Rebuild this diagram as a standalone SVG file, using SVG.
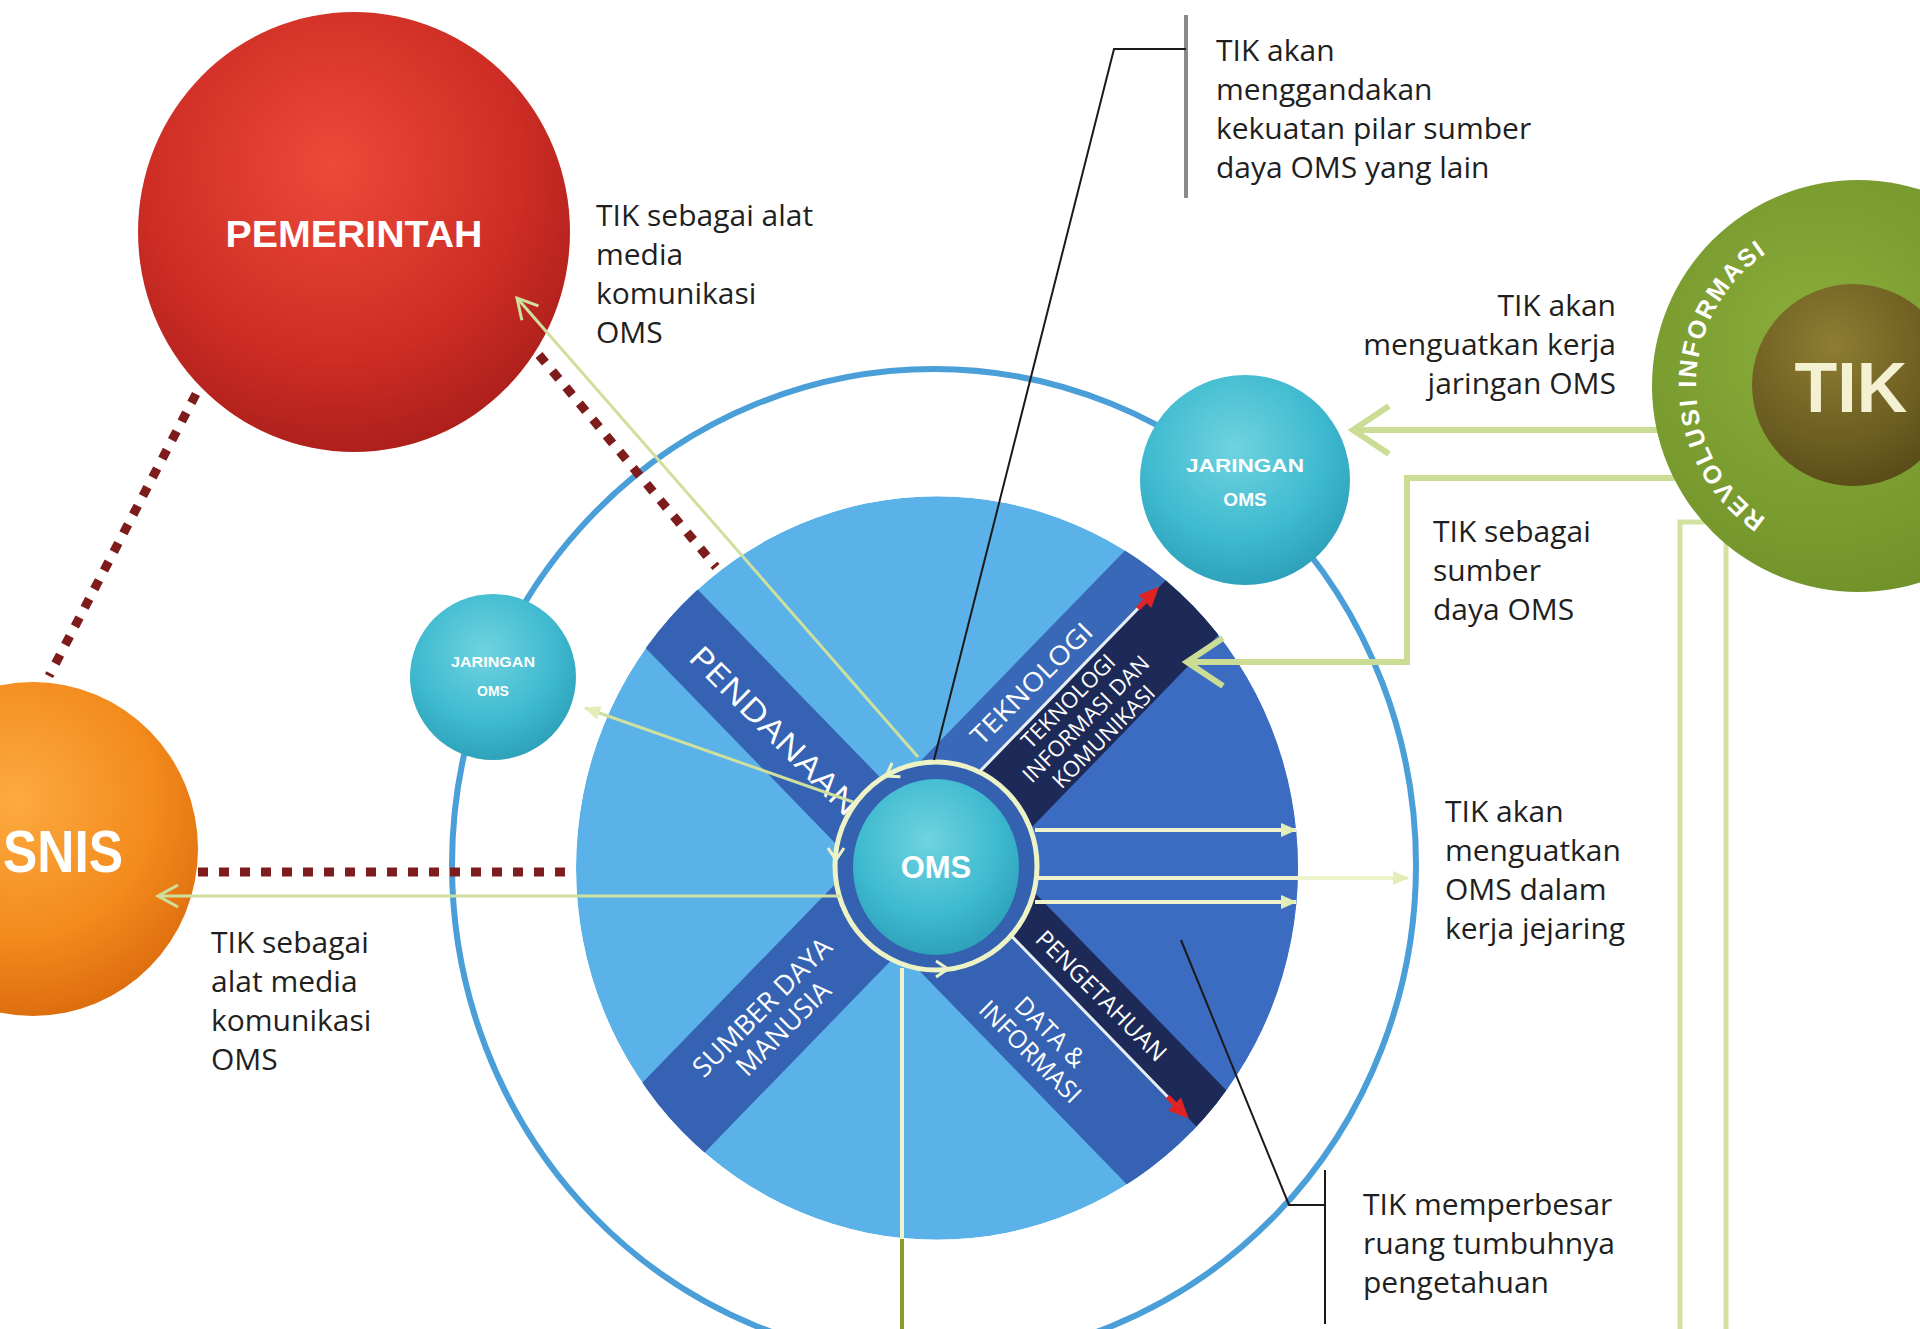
<svg xmlns="http://www.w3.org/2000/svg" width="1920" height="1329" viewBox="0 0 1920 1329">
<defs>
<style>
.lbl{font-family:"Open Sans","Liberation Sans",sans-serif;font-size:30px;fill:#1f1f1f}
.wt{font-family:"Liberation Sans",Arial,sans-serif;font-weight:bold;fill:#ffffff}
.bt{font-family:"Open Sans","Liberation Sans",sans-serif;fill:#ffffff}
.dot{fill:none;stroke:#7e1c1c;stroke-width:9;stroke-dasharray:10 11}
.gl{fill:none;stroke:#cfe09e;stroke-width:3}
.gt{fill:none;stroke:#cbdd94;stroke-width:6}
.pale{fill:none;stroke:#eef3cc;stroke-width:4}
.call{fill:none;stroke:#1a1a1a;stroke-width:2}
.rc{fill:none;stroke:#eef3c6;stroke-width:3}
</style>
<radialGradient id="gRed" cx="45%" cy="35%" r="70%"><stop offset="0" stop-color="#ec4a3a"/><stop offset="0.6" stop-color="#cf2e25"/><stop offset="1" stop-color="#a81d1a"/></radialGradient>
<radialGradient id="gOrange" cx="45%" cy="35%" r="70%"><stop offset="0" stop-color="#fcaa40"/><stop offset="0.6" stop-color="#f38a1c"/><stop offset="1" stop-color="#d9690c"/></radialGradient>
<radialGradient id="gTeal" cx="45%" cy="35%" r="70%"><stop offset="0" stop-color="#6fd3df"/><stop offset="0.6" stop-color="#3fbad0"/><stop offset="1" stop-color="#2a9db6"/></radialGradient>
<radialGradient id="gGreen" cx="40%" cy="40%" r="70%"><stop offset="0" stop-color="#8cae3c"/><stop offset="1" stop-color="#6d8f27"/></radialGradient>
<radialGradient id="gOlive" cx="40%" cy="30%" r="75%"><stop offset="0" stop-color="#8e7d32"/><stop offset="0.7" stop-color="#6a5b20"/><stop offset="1" stop-color="#574a16"/></radialGradient>
<clipPath id="discClip"><circle cx="0" cy="0" r="361"/></clipPath>
<marker id="chev" markerUnits="userSpaceOnUse" viewBox="0 0 26 26" markerWidth="26" markerHeight="26" refX="22" refY="13" orient="auto" overflow="visible"><path d="M2,2 L22,13 L2,24" fill="none" stroke="#cfe09e" stroke-width="3"/></marker>
<marker id="bigchev" markerUnits="userSpaceOnUse" viewBox="0 0 44 56" markerWidth="44" markerHeight="56" refX="40" refY="28" orient="auto" overflow="visible"><path d="M4,4 L40,28 L4,52" fill="none" stroke="#cbdd94" stroke-width="6"/></marker>
<marker id="tri" markerUnits="userSpaceOnUse" viewBox="0 0 16 14" markerWidth="16" markerHeight="14" refX="15" refY="7" orient="auto" overflow="visible"><path d="M0,0 L16,7 L0,14 z" fill="#e3edb6"/></marker>
<path id="revArc" d="M1842.1,545.4 A160,160 0 0 1 1842.1,226.6"/>
</defs>

<rect width="1920" height="1329" fill="#ffffff"/>

<g id="outer-ring">
<ellipse cx="934" cy="865" rx="482" ry="496" fill="none" stroke="#4a9fd8" stroke-width="6"/>
</g>

<g id="disc" transform="translate(937,868) scale(1,1.03)">
<g clip-path="url(#discClip)">
<circle cx="0" cy="0" r="361" fill="#5ab2e8"/>
<g transform="rotate(45)">
<rect x="0" y="-400" width="400" height="400" fill="#3c6cc1"/>
<rect x="-400" y="-22" width="400" height="77" fill="#3562b2"/>
<rect x="0" y="-6" width="400" height="89" fill="#3562b2"/>
<rect x="0" y="-52" width="400" height="46" fill="#1d2957"/>
<rect x="-85" y="-400" width="49" height="400" fill="#3a68b8"/>
<rect x="-36" y="-400" width="75" height="400" fill="#1d2957"/>
<rect x="-61" y="0" width="92" height="400" fill="#3562b2"/>
<line x1="-36" y1="-88" x2="-36" y2="-330" stroke="#e8eef5" stroke-width="3"/>
<line x1="-36" y1="-330" x2="-36" y2="-320" stroke="#e02222" stroke-width="5"/>
<polygon points="-36,-350 -45,-330 -27,-330" fill="#e02222"/>
<line x1="90" y1="-6" x2="330" y2="-6" stroke="#e8eef5" stroke-width="3"/>
<line x1="320" y1="-6" x2="330" y2="-6" stroke="#e02222" stroke-width="5"/>
<polygon points="350,-6 330,-15 330,3" fill="#e02222"/>
</g>
</g>
</g>

<g id="disc-labels">
<text class="bt" font-size="31" transform="translate(775,730) rotate(45)" text-anchor="middle" dominant-baseline="central" textLength="225" lengthAdjust="spacingAndGlyphs">PENDANAAN</text>
<text class="bt" font-size="26" transform="translate(1031,683) rotate(-45)" text-anchor="middle" dominant-baseline="central" textLength="160" lengthAdjust="spacingAndGlyphs">TEKNOLOGI</text>
<g transform="translate(1085,718) rotate(-45)">
<text class="bt" font-size="22" x="0" y="-25" text-anchor="middle" dominant-baseline="central">TEKNOLOGI</text>
<text class="bt" font-size="22" x="0" y="0" text-anchor="middle" dominant-baseline="central">INFORMASI DAN</text>
<text class="bt" font-size="22" x="0" y="25" text-anchor="middle" dominant-baseline="central">KOMUNIKASI</text>
</g>
<g transform="translate(772,1017) rotate(-45)">
<text class="bt" font-size="27" x="0" y="-15" text-anchor="middle" dominant-baseline="central">SUMBER DAYA</text>
<text class="bt" font-size="27" x="0" y="15" text-anchor="middle" dominant-baseline="central">MANUSIA</text>
</g>
<text class="bt" font-size="24" transform="translate(1102,995) rotate(45)" text-anchor="middle" dominant-baseline="central">PENGETAHUAN</text>
<g transform="translate(1041,1041) rotate(45)">
<text class="bt" font-size="25" x="0" y="-14" text-anchor="middle" dominant-baseline="central">DATA &amp;</text>
<text class="bt" font-size="25" x="0" y="14" text-anchor="middle" dominant-baseline="central">INFORMASI</text>
</g>
</g>

<g id="oms">
<ellipse cx="936" cy="866" rx="101" ry="104" fill="#3461b0" stroke="#eef3c6" stroke-width="5"/>
<ellipse cx="936" cy="867" rx="83" ry="88" fill="url(#gTeal)"/>
<path class="rc" d="M-12,-8 L0,0 L-12,8" transform="translate(886,776) rotate(149)"/>
<path class="rc" d="M-12,-8 L0,0 L-12,8" transform="translate(836,860) rotate(90)"/>
<path class="rc" d="M-12,-8 L0,0 L-12,8" transform="translate(948,969) rotate(0)"/>
<text class="wt" font-size="31" x="936" y="867" text-anchor="middle" dominant-baseline="central">OMS</text>
</g>

<g id="pemerintah">
<ellipse cx="354" cy="232" rx="216" ry="220" fill="url(#gRed)"/>
<text class="wt" font-size="37" x="354" y="234" text-anchor="middle" dominant-baseline="central" textLength="257" lengthAdjust="spacingAndGlyphs">PEMERINTAH</text>
</g>

<g id="snis">
<ellipse cx="33" cy="849" rx="165" ry="167" fill="url(#gOrange)"/>
<text class="wt" font-size="60" x="123" y="851" text-anchor="end" dominant-baseline="central" textLength="120" lengthAdjust="spacingAndGlyphs">SNIS</text>
</g>

<g id="jaringan-kiri">
<circle cx="493" cy="677" r="83" fill="url(#gTeal)"/>
<text class="wt" font-size="14" x="493" y="667" text-anchor="middle" textLength="84" lengthAdjust="spacingAndGlyphs">JARINGAN</text>
<text class="wt" font-size="14" x="493" y="696" text-anchor="middle">OMS</text>
</g>

<g id="jaringan-kanan">
<circle cx="1245" cy="480" r="105" fill="url(#gTeal)"/>
<text class="wt" font-size="19" x="1245" y="472" text-anchor="middle" textLength="118" lengthAdjust="spacingAndGlyphs">JARINGAN</text>
<text class="wt" font-size="19" x="1245" y="506" text-anchor="middle">OMS</text>
</g>

<g id="connectors">
<path class="dot" d="M196,394 L49,676"/>
<path class="dot" d="M539,355 L716,567"/>
<path class="dot" d="M198,872 L573,872"/>
<path class="gl" d="M918,757 L517,298" marker-end="url(#chev)"/>
<path class="gl" d="M840,896 L158,896" marker-end="url(#chev)"/>
<path class="gl" d="M853,802 L585,708" marker-end="url(#tri)"/>
<path class="pale" stroke-width="3" d="M1035,830 H1296" marker-end="url(#tri)"/>
<path class="pale" stroke-width="3" d="M1035,878 H1408" marker-end="url(#tri)"/>
<path class="pale" stroke-width="3" d="M1035,902 H1296" marker-end="url(#tri)"/>
<path class="pale" d="M902,968 V1239"/>
<path fill="none" stroke="#8c9a2e" stroke-width="4" d="M902,1239 V1329"/>
<path class="gt" d="M1662,430 H1353" marker-end="url(#bigchev)"/>
<path class="gt" d="M1680,478 H1407 V662 H1187" marker-end="url(#bigchev)"/>
<path fill="none" stroke="#d3e2a0" stroke-width="5" d="M1680,1329 V522 H1726 V1329"/>
<path fill="none" stroke="#8a8a8a" stroke-width="4" d="M1186,15 V198"/>
<path class="call" d="M1186,49 H1114 L934,760"/>
<path class="call" d="M1325,1170 V1324"/>
<path class="call" d="M1325,1205 H1289 L1181,940"/>
</g>

<g id="labels">
<text class="lbl" x="596"><tspan x="596" y="226">TIK sebagai alat</tspan><tspan x="596" y="265">media</tspan><tspan x="596" y="304">komunikasi</tspan><tspan x="596" y="343">OMS</tspan></text>
<text class="lbl" x="1216"><tspan x="1216" y="61">TIK akan</tspan><tspan x="1216" y="100">menggandakan</tspan><tspan x="1216" y="139">kekuatan pilar sumber</tspan><tspan x="1216" y="178">daya OMS yang lain</tspan></text>
<text class="lbl" text-anchor="end"><tspan x="1616" y="316">TIK akan</tspan><tspan x="1616" y="355">menguatkan kerja</tspan><tspan x="1616" y="394">jaringan OMS</tspan></text>
<text class="lbl"><tspan x="1433" y="542">TIK sebagai</tspan><tspan x="1433" y="581">sumber</tspan><tspan x="1433" y="620">daya OMS</tspan></text>
<text class="lbl"><tspan x="1445" y="822">TIK akan</tspan><tspan x="1445" y="861">menguatkan</tspan><tspan x="1445" y="900">OMS dalam</tspan><tspan x="1445" y="939">kerja jejaring</tspan></text>
<text class="lbl"><tspan x="211" y="953">TIK sebagai</tspan><tspan x="211" y="992">alat media</tspan><tspan x="211" y="1031">komunikasi</tspan><tspan x="211" y="1070">OMS</tspan></text>
<text class="lbl"><tspan x="1363" y="1215">TIK memperbesar</tspan><tspan x="1363" y="1254">ruang tumbuhnya</tspan><tspan x="1363" y="1293">pengetahuan</tspan></text>
</g>

<g id="tik">
<circle cx="1858" cy="386" r="206" fill="url(#gGreen)"/>
<circle cx="1853" cy="385" r="101" fill="url(#gOlive)"/>
<text class="wt" font-size="70" x="1851" y="388" text-anchor="middle" dominant-baseline="central" style="fill:#f4f1d2">TIK</text>
<text class="wt" font-size="25"><textPath href="#revArc" startOffset="50%" text-anchor="middle" textLength="312" lengthAdjust="spacing">REVOLUSI INFORMASI</textPath></text>
</g>
</svg>
